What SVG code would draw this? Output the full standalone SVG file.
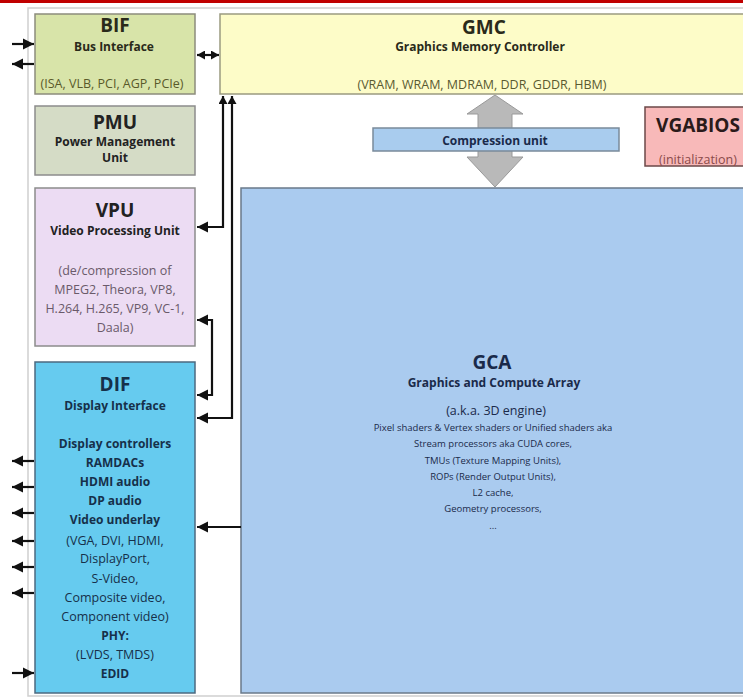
<svg xmlns="http://www.w3.org/2000/svg" width="743" height="698" viewBox="0 0 743 698">
<defs>
<style>
.t{font-family:"Open Sans","Noto Sans",sans-serif;text-anchor:middle}
.h{font-size:19px;font-weight:bold}
.s{font-size:12px;font-weight:bold}
.r{font-size:12.5px}
.g{font-size:9.5px}
.box{stroke-width:1.5}
.c{fill:none;stroke:#111;stroke-width:2.2}
</style>
<marker id="ah" markerUnits="userSpaceOnUse" markerWidth="12" markerHeight="12" refX="11" refY="6" orient="auto-start-reverse" viewBox="0 0 12 12">
<path d="M0,0.5 L11,6 L0,11.5 z" fill="#111"/>
</marker>
<marker id="sm" markerUnits="userSpaceOnUse" markerWidth="8" markerHeight="9" refX="8" refY="4.5" orient="auto-start-reverse" viewBox="0 0 8 9">
<path d="M0,0 L8,4.5 L0,9 z" fill="#111"/>
</marker>
</defs>
<rect x="0" y="0" width="743" height="698" fill="#fff"/>
<rect x="0" y="0" width="743" height="3" fill="#c00000"/>
<rect x="28" y="8" width="740" height="688" fill="#fff" stroke="#cfcfcf" stroke-width="1.5"/>

<g id="BIF">
<rect class="box" x="35" y="14" width="160" height="80" fill="#d8e4a9" stroke="#8c8c7c"/>
<text class="t h" x="115" y="32" fill="#2a2a1a">BIF</text>
<text class="t s" x="114" y="51" fill="#2a2a1a">Bus Interface</text>
<text class="t r" x="112" y="88" fill="#5a5a2a" font-size="12">(ISA, VLB, PCI, AGP, PCIe)</text>
</g>

<g id="GMC">
<rect class="box" x="220" y="14" width="540" height="80" fill="#fdfcc8" stroke="#9a9a80"/>
<text class="t h" x="484" y="34" fill="#2a2a1a">GMC</text>
<text class="t s" x="480" y="51" fill="#2a2a1a">Graphics Memory Controller</text>
<text class="t r" x="482" y="89" fill="#5a5a30">(VRAM, WRAM, MDRAM, DDR, GDDR, HBM)</text>
</g>

<g id="PMU">
<rect class="box" x="35" y="106" width="160" height="69" fill="#d5dcc6" stroke="#8c8c8c"/>
<text class="t h" x="115" y="129" fill="#222" font-size="18">PMU</text>
<text class="t s" x="115" y="146" fill="#222" font-size="11.5">Power Management</text>
<text class="t s" x="115" y="162" fill="#222" font-size="11.5">Unit</text>
</g>

<g id="VPU">
<rect class="box" x="35" y="188" width="160" height="158" fill="#ecdcf3" stroke="#8c8c8c"/>
<text class="t h" x="115" y="217" fill="#222">VPU</text>
<text class="t s" x="115" y="235" fill="#222">Video Processing Unit</text>
<text class="t r" x="115" y="275" fill="#6a5a6a">(de/compression of</text>
<text class="t r" x="115" y="294" fill="#6a5a6a">MPEG2, Theora, VP8,</text>
<text class="t r" x="115" y="313" fill="#6a5a6a">H.264, H.265, VP9, VC-1,</text>
<text class="t r" x="115" y="332" fill="#6a5a6a">Daala)</text>
</g>

<g id="DIF">
<rect class="box" x="35" y="362" width="160" height="331" fill="#66cbef" stroke="#4c6a80"/>
<text class="t h" x="115" y="391" fill="#16304a">DIF</text>
<text class="t s" x="115" y="410" fill="#16304a">Display Interface</text>
<text class="t s" x="115" y="448" fill="#16304a">Display controllers</text>
<text class="t s" x="115" y="467" fill="#16304a">RAMDACs</text>
<text class="t s" x="115" y="486" fill="#16304a">HDMI audio</text>
<text class="t s" x="115" y="505" fill="#16304a">DP audio</text>
<text class="t s" x="115" y="524" fill="#16304a">Video underlay</text>
<text class="t r" x="115" y="545" fill="#16304a">(VGA, DVI, HDMI,</text>
<text class="t r" x="115" y="563" fill="#16304a">DisplayPort,</text>
<text class="t r" x="115" y="583" fill="#16304a">S-Video,</text>
<text class="t r" x="115" y="602" fill="#16304a">Composite video,</text>
<text class="t r" x="115" y="621" fill="#16304a">Component video)</text>
<text class="t s" x="115" y="640" fill="#16304a">PHY:</text>
<text class="t r" x="115" y="659" fill="#16304a">(LVDS, TMDS)</text>
<text class="t s" x="115" y="678" fill="#16304a">EDID</text>
</g>

<g id="GCA">
<rect class="box" x="241" y="188" width="520" height="505" fill="#aacbef" stroke="#6a7a8a"/>
<text class="t h" x="492" y="369" fill="#1a2a4a">GCA</text>
<text class="t s" x="494" y="387" fill="#1a2a4a">Graphics and Compute Array</text>
<text class="t r" x="496" y="415" fill="#1a2a4a" font-size="11.5">(a.k.a. 3D engine)</text>
<text class="t g" x="493" y="431" fill="#1a2a4a">Pixel shaders &amp; Vertex shaders or Unified shaders aka</text>
<text class="t g" x="493" y="447" fill="#1a2a4a">Stream processors aka CUDA cores,</text>
<text class="t g" x="493" y="464" fill="#1a2a4a">TMUs (Texture Mapping Units),</text>
<text class="t g" x="493" y="480" fill="#1a2a4a">ROPs (Render Output Units),</text>
<text class="t g" x="493" y="496" fill="#1a2a4a">L2 cache,</text>
<text class="t g" x="493" y="512" fill="#1a2a4a">Geometry processors,</text>
<text class="t g" x="493" y="529" fill="#1a2a4a">...</text>
</g>

<g id="MemArrow">
<polygon points="495,95 523,114 512,114 512,157 523,157 495,187 467,157 478,157 478,114 467,114" fill="#b9b9b9" stroke="#999" stroke-width="1"/>
</g>

<g id="Compression">
<rect class="box" x="373" y="128" width="246" height="23" fill="#a9ccee" stroke="#7a8a9a"/>
<text class="t s" x="495" y="145" fill="#1a2a4a">Compression unit</text>
</g>

<g id="VGABIOS">
<rect class="box" x="645" y="107" width="110" height="59" fill="#f8b9b9" stroke="#6b4848"/>
<text class="t h" x="698" y="132" fill="#2a1a1a">VGABIOS</text>
<text class="t r" x="698" y="164" fill="#8a4a4a">(initialization)</text>
</g>

<g id="connectors">
<line class="c" x1="12" y1="44" x2="34" y2="44" marker-end="url(#ah)"/>
<line class="c" x1="34" y1="64" x2="12" y2="64" marker-end="url(#ah)"/>
<line class="c" x1="197" y1="55" x2="219" y2="55" marker-start="url(#sm)" marker-end="url(#sm)"/>
<path class="c" d="M223,96 L223,227 L197,227" marker-start="url(#sm)" marker-end="url(#ah)"/>
<path class="c" d="M232,96 L232,418 L197,418" marker-start="url(#sm)" marker-end="url(#ah)"/>
<path class="c" d="M197,320 L212,320 L212,395 L197,395" marker-start="url(#ah)" marker-end="url(#ah)"/>
<line class="c" x1="241" y1="527" x2="197" y2="527" marker-end="url(#ah)"/>
<line class="c" x1="34" y1="461" x2="12" y2="461" marker-end="url(#ah)"/>
<line class="c" x1="34" y1="487" x2="12" y2="487" marker-end="url(#ah)"/>
<line class="c" x1="34" y1="513" x2="12" y2="513" marker-end="url(#ah)"/>
<line class="c" x1="34" y1="541" x2="12" y2="541" marker-end="url(#ah)"/>
<line class="c" x1="34" y1="567" x2="12" y2="567" marker-end="url(#ah)"/>
<line class="c" x1="34" y1="593" x2="12" y2="593" marker-end="url(#ah)"/>
<line class="c" x1="12" y1="673" x2="34" y2="673" marker-end="url(#ah)"/>
</g>
</svg>
